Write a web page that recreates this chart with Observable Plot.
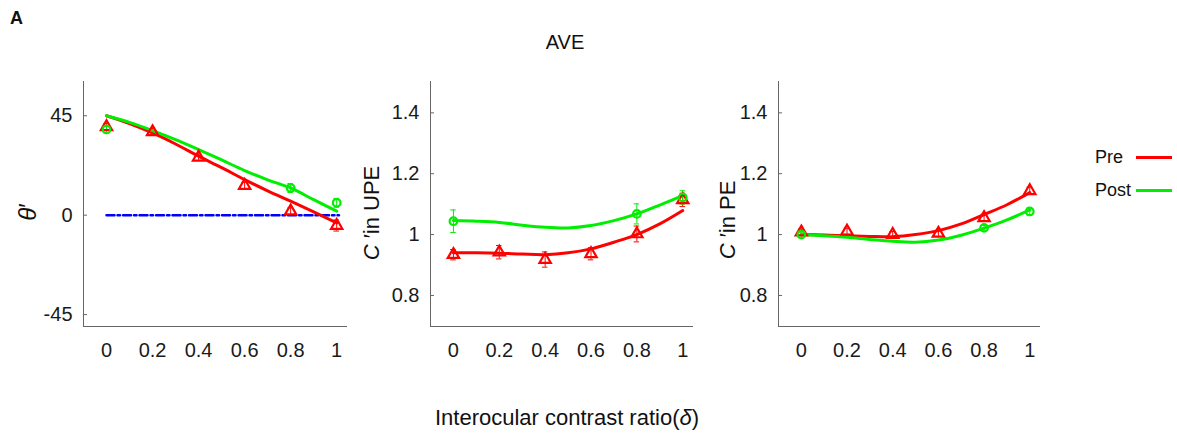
<!DOCTYPE html>
<html><head><meta charset="utf-8">
<script src="https://cdn.jsdelivr.net/npm/d3@7"></script>
<script src="https://cdn.jsdelivr.net/npm/@observablehq/plot@0.6"></script>
<style>
body{margin:0;background:#fff;font-family:"Liberation Sans",Arial,sans-serif;}
#wrap{position:relative;width:1177px;height:436px;overflow:hidden;background:#fff;}
.abs{position:absolute;white-space:nowrap;color:#111;line-height:1;}
.rot{transform:translate(-50%,-50%) rotate(-90deg);}
.ctr{transform:translate(-50%,-50%);}
.panel{position:absolute;}
.panel svg{overflow:visible;}
.leg{position:absolute;height:3px;width:36px;}
</style></head><body>
<div id="wrap">
  <div class="abs" style="left:10px;top:9px;font-size:18px;font-weight:bold;">A</div>
  <div class="abs ctr" style="left:565px;top:42px;font-size:20px;">AVE</div>
  <div class="abs ctr" style="left:567px;top:418px;font-size:22px;">Interocular contrast ratio(<i>δ</i>)</div>
  <div class="abs rot" style="left:28px;top:212px;font-size:24px;"><i>θ</i>′</div>
  <div class="abs rot" style="left:372px;top:213px;font-size:22px;"><i>C</i> ′in UPE</div>
  <div class="abs rot" style="left:728px;top:220px;font-size:22px;"><i>C</i> ′in PE</div>
  <div class="abs" style="left:1095px;top:148px;font-size:18px;">Pre</div>
  <div class="leg" style="left:1136px;top:156px;background:#ff0000;"></div>
  <div class="abs" style="left:1095px;top:181px;font-size:18px;">Post</div>
  <div class="leg" style="left:1136px;top:189px;background:#00ee00;"></div>
  <div id="p1" class="panel" style="left:0px;top:60px;"></div>
  <div id="p2" class="panel" style="left:360px;top:60px;"></div>
  <div id="p3" class="panel" style="left:708px;top:60px;"></div>
</div>
<script>
// ---------- data ----------
const xTicks = [0, 0.2, 0.4, 0.6, 0.8, 1];
const xTickLabels = ["0", "0.2", "0.4", "0.6", "0.8", "1"];
const xPre = [0, 0.2, 0.4, 0.6, 0.8, 1];
const xPost = [0, 0.8, 1];
const xFit = [0, 0.1, 0.2, 0.3, 0.4, 0.5, 0.6, 0.7, 0.8, 0.9, 1.0];

// Panel 1: theta'
const thetaTicks = [-45, 0, 45];
const thetaTickLabels = ["-45", "0", "45"];
const thetaPre = [40, 37.7, 26.2, 13.4, 1.8, -4.7];
const thetaPreErr = [1.5, 1.5, 1.5, 1.5, 1.5, 2.5];
const thetaPost = [38.8, 12.3, 5.6];
const thetaPostErr = [1.5, 2, 2];
const thetaFitPre = [45, 41.5, 37.2, 32.2, 26.7, 21.5, 16.1, 11, 6.3, 1.5, -3.5];
const thetaFitPost = [45, 42, 38.3, 34.2, 29.7, 25, 20.2, 16, 12.3, 7, 1.8];
const refX = [0, 1.01];
const refY = [0, 0];

// Panel 2: C' in UPE
const cTicks = [0.8, 1, 1.2, 1.4];
const cTickLabels = ["0.8", "1", "1.2", "1.4"];
const upePre = [0.934, 0.942, 0.918, 0.937, 1.002, 1.114];
const upePreErr = [0.017, 0.022, 0.025, 0.02, 0.026, 0.022];
const upePost = [1.044, 1.068, 1.122];
const upePostErr = [0.037, 0.033, 0.022];
const upeFitPre = [0.94, 0.94, 0.939, 0.936, 0.934, 0.94, 0.953, 0.975, 1.0, 1.035, 1.079];
const upeFitPost = [1.046, 1.044, 1.04, 1.031, 1.024, 1.022, 1.03, 1.046, 1.068, 1.097, 1.128];

// Panel 3: C' in PE
const pePre = [1.008, 1.011, 1.0, 1.004, 1.055, 1.144];
const pePreErr = [0.01, 0.01, 0.01, 0.01, 0.012, 0.012];
const pePost = [1.0, 1.022, 1.076];
const pePostErr = [0.008, 0.008, 0.012];
const peFitPre = [1.0, 0.999, 0.996, 0.994, 0.993, 1.0, 1.013, 1.035, 1.066, 1.098, 1.138];
const peFitPost = [1.0, 0.996, 0.991, 0.984, 0.978, 0.975, 0.982, 0.998, 1.021, 1.048, 1.081];

const RED = "#ff0000", GREEN = "#00ee00", BLUE = "#0000ff", AXIS = "#666";
const xDomain = [-0.1, 1.047];

function rows(xs, ys, es) {
  return xs.map((x, i) => ({x, y: ys[i], e: es ? es[i] : 0}));
}

function panel(cfg) {
  const pre = rows(xPre, cfg.pre, cfg.preErr);
  const post = rows(xPost, cfg.post, cfg.postErr);
  const fitPre = rows(xFit, cfg.fitPre);
  const fitPost = rows(xFit, cfg.fitPost);
  const cap = 0.012;
  const errMarks = (data, color) => [
    Plot.ruleX(data, {x: "x", y1: d => d.y - d.e, y2: d => d.y + d.e, stroke: color, strokeWidth: 1}),
    Plot.ruleY(data, {y: d => d.y - d.e, x1: d => d.x - cap, x2: d => d.x + cap, stroke: color, strokeWidth: 1}),
    Plot.ruleY(data, {y: d => d.y + d.e, x1: d => d.x - cap, x2: d => d.x + cap, stroke: color, strokeWidth: 1})
  ];
  const marks = [
    Plot.ruleX([xDomain[0]], {stroke: AXIS, strokeWidth: 1}),
    Plot.ruleY([cfg.yDomain[0]], {stroke: AXIS, strokeWidth: 1}),
    Plot.axisY({ticks: cfg.yTicks, tickFormat: d => cfg.yTickLabels[cfg.yTicks.indexOf(d)], tickSize: -4, tickPadding: 15, stroke: AXIS, fill: "#1a1a1a", fontSize: 20, label: null}),
    Plot.axisX({ticks: xTicks, tickFormat: d => xTickLabels[xTicks.indexOf(d)], tickSize: 0, tickPadding: 16, fill: "#1a1a1a", fontSize: 20, label: null}),
  ];
  if (cfg.ref) {
    marks.push(Plot.line(rows(refX, refY), {x: "x", y: "y", stroke: BLUE, strokeWidth: 2.5, strokeDasharray: "8,3,2.5,3"}));
  }
  marks.push(
    ...errMarks(pre, RED),
    ...errMarks(post, GREEN),
    Plot.line(fitPre, {x: "x", y: "y", stroke: RED, strokeWidth: 3, curve: "catmull-rom"}),
    Plot.line(fitPost, {x: "x", y: "y", stroke: GREEN, strokeWidth: 3, curve: "catmull-rom"}),
    Plot.dot(pre, {x: "x", y: "y", symbol: "triangle", r: 4.2, stroke: RED, strokeWidth: 2.2, fill: "none"}),
    Plot.dot(post, {x: "x", y: "y", symbol: "circle", r: 3.8, stroke: GREEN, strokeWidth: 2.2, fill: "none"})
  );
  return Plot.plot({
    width: cfg.width, height: 306,
    marginTop: 21, marginBottom: 40, marginLeft: cfg.ml, marginRight: cfg.mr,
    style: {fontFamily: '"Liberation Sans", Arial, sans-serif', fontSize: "20px", background: "transparent", color: "#1a1a1a"},
    x: {domain: xDomain, label: null},
    y: {domain: cfg.yDomain, label: null},
    marks
  });
}

document.getElementById("p1").append(panel({
  width: 360, ml: 83, mr: 13, yDomain: [-50.4, 60.5], yTicks: thetaTicks, yTickLabels: thetaTickLabels,
  pre: thetaPre, preErr: thetaPreErr, post: thetaPost, postErr: thetaPostErr,
  fitPre: thetaFitPre, fitPost: thetaFitPost, ref: true
}));
document.getElementById("p2").append(panel({
  width: 345, ml: 70, mr: 12, yDomain: [0.698, 1.503], yTicks: cTicks, yTickLabels: cTickLabels,
  pre: upePre, preErr: upePreErr, post: upePost, postErr: upePostErr,
  fitPre: upeFitPre, fitPost: upeFitPost
}));
document.getElementById("p3").append(panel({
  width: 345, ml: 70, mr: 13, yDomain: [0.698, 1.503], yTicks: cTicks, yTickLabels: cTickLabels,
  pre: pePre, preErr: pePreErr, post: pePost, postErr: pePostErr,
  fitPre: peFitPre, fitPost: peFitPost
}));
</script>
</body></html>
